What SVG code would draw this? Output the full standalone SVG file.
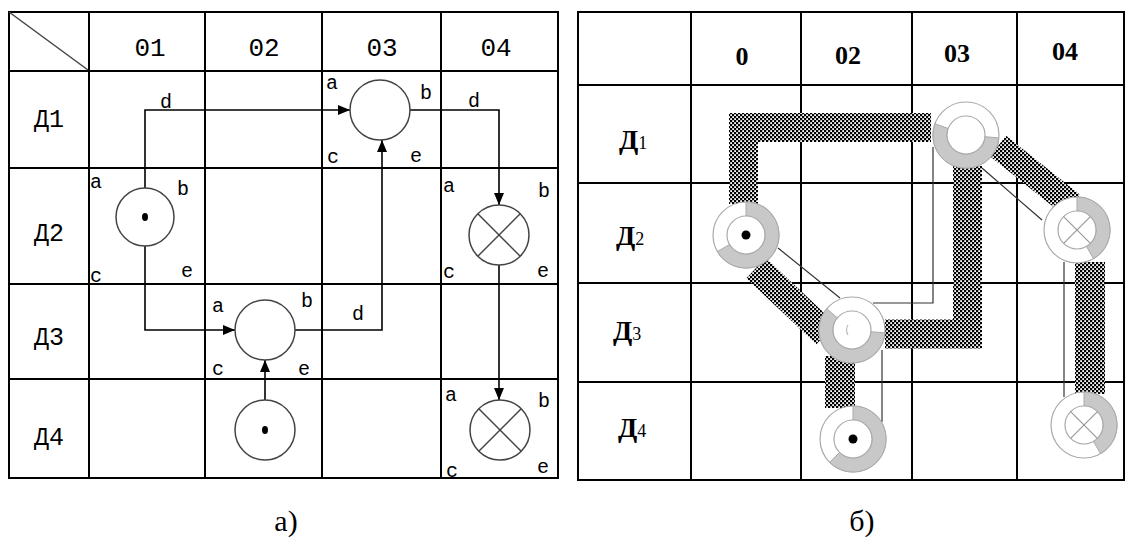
<svg xmlns="http://www.w3.org/2000/svg" width="1133" height="552" viewBox="0 0 1133 552">
<defs>
<style>
.grid{stroke:#000;stroke-width:2;fill:none}
.conn{stroke:#000;stroke-width:1.6;fill:none}
.node{fill:#fff;stroke:#444;stroke-width:1.5}
.lt{font-family:"Liberation Mono",monospace;fill:#000}
.hd{font-size:26px;text-anchor:middle}
.pl{font-size:20px}
.rt{font-family:"Liberation Serif",serif;fill:#000}
.rh{font-size:26px;font-weight:bold;text-anchor:middle}
.band{fill:none;stroke:url(#chk);stroke-linejoin:miter}
.thin{stroke:#333;stroke-width:1.2;fill:none}
.ring{fill:#fff;stroke:#aaa;stroke-width:1.2}
.seg{fill:#c8c8c8;stroke:#aaa;stroke-width:1}
.inner{fill:#fff;stroke:#aaa;stroke-width:1.2}
.xl{stroke:#999;stroke-width:1.2}
.cap{font-family:"Liberation Serif",serif;font-size:30px;text-anchor:middle;fill:#000}
</style>
<pattern id="chk" patternUnits="userSpaceOnUse" width="4" height="4">
<rect width="4" height="4" fill="#000"/>
<rect x="0.2" y="0.2" width="1.8" height="1.8" fill="#fff"/>
<rect x="2.2" y="2.2" width="1.8" height="1.8" fill="#fff"/>
</pattern>
<marker id="arr" viewBox="0 0 12 10" refX="12" refY="5" markerWidth="12" markerHeight="10" markerUnits="userSpaceOnUse" orient="auto">
<path d="M0,0 L12,5 L0,10 Z" fill="#000"/>
</marker>
</defs>

<!-- LEFT TABLE (a) -->
<g id="tableA">
<rect class="grid" x="9" y="12" width="549" height="466"/>
<path class="grid" d="M89,12V478M205,12V478M322,12V478M441,12V478M9,71H558M9,168H558M9,284H558M9,379H558"/>
<line x1="9" y1="12" x2="88" y2="70" stroke="#444" stroke-width="1.5"/>
<g class="lt hd">
<text x="150" y="56">01</text>
<text x="264" y="56">02</text>
<text x="382" y="56">03</text>
<text x="496" y="56">04</text>
</g>
<g class="lt" font-size="25" text-anchor="middle">
<text x="49" y="127">Д1</text>
<text x="49" y="241">Д2</text>
<text x="49" y="345">Д3</text>
<text x="49" y="445">Д4</text>
</g>
</g>

<g id="connectorsA">
<path class="conn" d="M145,188V110H350" marker-end="url(#arr)"/>
<path class="conn" d="M410,110H499V205" marker-end="url(#arr)"/>
<path class="conn" d="M499,265V400" marker-end="url(#arr)"/>
<path class="conn" d="M145,246V330H235" marker-end="url(#arr)"/>
<path class="conn" d="M265,400V360" marker-end="url(#arr)"/>
<path class="conn" d="M295,330H382V140" marker-end="url(#arr)"/>
<g class="lt pl">
<text x="160" y="108">d</text>
<text x="468" y="107">d</text>
<text x="352" y="320">d</text>
</g>
</g>

<g id="a-node-01-D2">
<circle class="node" cx="145" cy="217" r="29"/>
<ellipse cx="145" cy="217" rx="3" ry="4" fill="#000"/>
<g class="lt pl"><text x="90" y="188">a</text><text x="177" y="195">b</text><text x="90" y="282">c</text><text x="181" y="277">e</text></g>
</g>
<g id="a-node-03-D1">
<circle class="node" cx="380" cy="110" r="30"/>
<g class="lt pl"><text x="326" y="89">a</text><text x="420" y="99">b</text><text x="327" y="163">c</text><text x="410" y="162">e</text></g>
</g>
<g id="a-node-04-D2">
<circle class="node" cx="499" cy="235" r="30"/>
<path d="M477.8,213.8L520.2,256.2M520.2,213.8L477.8,256.2" stroke="#444" stroke-width="1.5"/>
<g class="lt pl"><text x="443" y="192">a</text><text x="538" y="197">b</text><text x="443" y="278">c</text><text x="537" y="277">e</text></g>
</g>
<g id="a-node-02-D3">
<circle class="node" cx="265" cy="330" r="30"/>
<g class="lt pl"><text x="212" y="312">a</text><text x="301" y="307">b</text><text x="212" y="375">c</text><text x="298" y="375">e</text></g>
</g>
<g id="a-node-02-D4">
<circle class="node" cx="265" cy="430" r="30"/>
<ellipse cx="265" cy="430" rx="3" ry="4" fill="#000"/>
</g>
<g id="a-node-04-D4">
<circle class="node" cx="500" cy="430" r="30"/>
<path d="M478.8,408.8L521.2,451.2M521.2,408.8L478.8,451.2" stroke="#444" stroke-width="1.5"/>
<g class="lt pl"><text x="445" y="401">a</text><text x="538" y="407">b</text><text x="446" y="477">c</text><text x="537" y="473">e</text></g>
</g>

<!-- RIGHT TABLE (b) -->
<g id="tableB">
<rect class="grid" x="578" y="12" width="546" height="468"/>
<path class="grid" d="M691,12V480M801,12V480M912,12V480M1017,12V480M578,85H1124M578,183H1124M578,283H1124M578,382H1124"/>
<g class="rt rh">
<text x="742" y="65">0</text>
<text x="848" y="64">02</text>
<text x="957" y="62">03</text>
<text x="1065" y="60">04</text>
</g>
<g class="rt" font-size="28" font-weight="bold">
<text x="619" y="149">Д<tspan font-size="18" font-weight="normal">1</tspan></text>
<text x="616" y="245">Д<tspan font-size="18" font-weight="normal">2</tspan></text>
<text x="613" y="340">Д<tspan font-size="18" font-weight="normal">3</tspan></text>
<text x="618" y="437">Д<tspan font-size="18" font-weight="normal">4</tspan></text>
</g>
</g>

<g id="connectorsB">
<path class="band" stroke-width="29" d="M743.5,204V127.5H931"/>
<line class="band" stroke-width="28" x1="756" y1="268" x2="826" y2="334"/>
<line class="band" stroke-width="30" x1="840" y1="356" x2="840" y2="408"/>
<path class="band" stroke-width="29" d="M885,334H967.5V166"/>
<line class="band" stroke-width="26" x1="998" y1="146" x2="1072" y2="205"/>
<line class="band" stroke-width="30" x1="1090" y1="262" x2="1090" y2="394"/>
<line class="thin" x1="778" y1="248" x2="840" y2="298"/>
<path class="thin" d="M882,350V422"/>
<path class="thin" d="M933,147V303H873"/>
<line class="thin" x1="982" y1="168" x2="1042" y2="220"/>
<path class="thin" d="M1064,262V397"/>
</g>

<g id="b-node-0-D2">
<circle class="ring" cx="746" cy="235" r="33"/>
<path class="seg" d="M746,202A33,33 0 1 1 717.4,251.5L729.5,244.5A19,19 0 1 0 746,216Z"/>
<circle class="inner" cx="746" cy="235" r="19"/>
<circle cx="746" cy="235" r="4.5" fill="#000"/>
</g>
<g id="b-node-03-D1">
<circle class="ring" cx="966" cy="135" r="33"/>
<path class="seg" d="M998.8,137.9A33,33 0 1 1 935,123.7L948.1,128.5A19,19 0 1 0 984.9,136.7Z"/>
<circle class="inner" cx="966" cy="135" r="19"/>
</g>
<g id="b-node-04-D2">
<circle class="ring" cx="1077" cy="230" r="33"/>
<path class="seg" d="M1077,197A33,33 0 0 1 1093.5,258.6L1086.5,246.5A19,19 0 0 0 1077,211Z"/>
<circle class="inner" cx="1077" cy="230" r="19"/>
<path class="xl" d="M1063.6,216.6L1090.4,243.4M1090.4,216.6L1063.6,243.4"/>
</g>
<g id="b-node-02-D3">
<circle class="ring" cx="852" cy="330" r="33"/>
<path class="seg" d="M884.9,332.9A33,33 0 1 1 826.7,308.8L837.4,317.8A19,19 0 1 0 870.9,331.7Z"/>
<circle class="inner" cx="852" cy="330" r="19"/>
<path d="M848,325Q845,330 848,335" stroke="#bbb" stroke-width="1.2" fill="none"/>
</g>
<g id="b-node-02-D4">
<circle class="ring" cx="853" cy="439" r="33"/>
<path class="seg" d="M853,406A33,33 0 1 1 829.7,462.3L839.6,452.4A19,19 0 1 0 853,420Z"/>
<circle class="inner" cx="853" cy="439" r="19"/>
<circle cx="853" cy="439" r="4.5" fill="#000"/>
</g>
<g id="b-node-04-D4">
<circle class="ring" cx="1084" cy="425" r="33"/>
<path class="seg" d="M1084,392A33,33 0 0 1 1100.5,453.6L1093.5,441.5A19,19 0 0 0 1084,406Z"/>
<circle class="inner" cx="1084" cy="425" r="19"/>
<path class="xl" d="M1070.6,411.6L1097.4,438.4M1097.4,411.6L1070.6,438.4"/>
</g>

<text class="cap" x="286" y="531">а)</text>
<text class="cap" x="862" y="531">б)</text>
</svg>
